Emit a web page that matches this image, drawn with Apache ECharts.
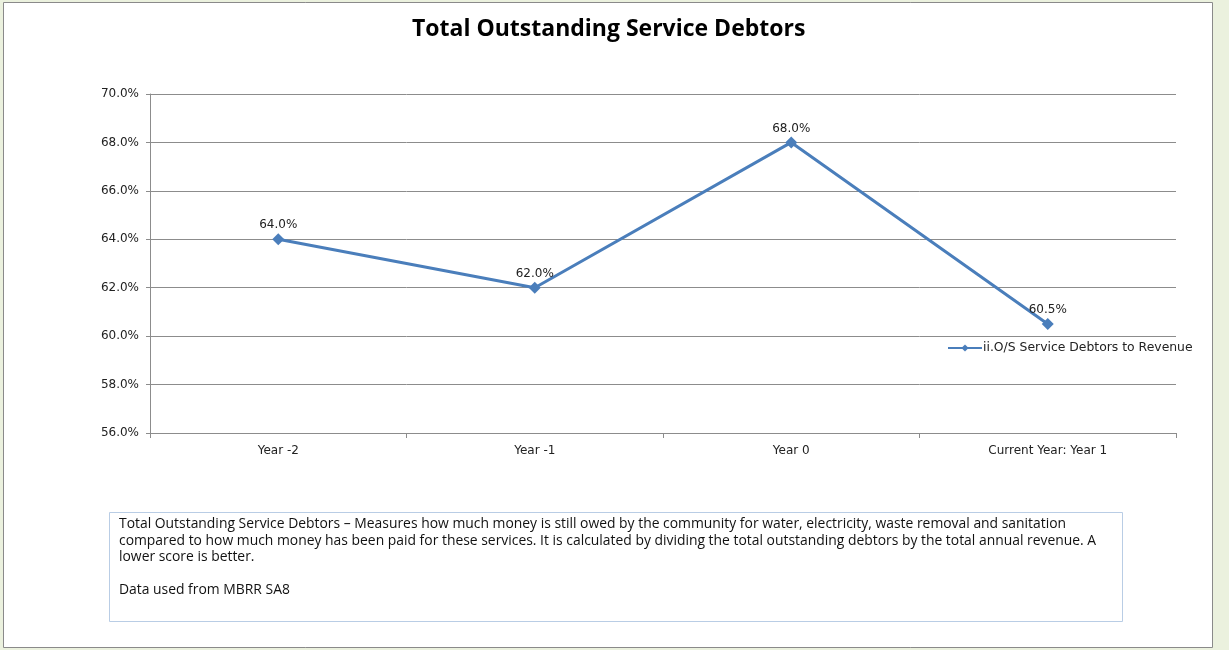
<!DOCTYPE html>
<html>
<head>
<meta charset="utf-8">
<script src="https://cdn.jsdelivr.net/npm/echarts@6/dist/echarts.min.js"></script>
<style>
  html, body { margin: 0; padding: 0; background: #EBF1DE; }
  #chart { width: 1229px; height: 650px; }
</style>
</head>
<body>
<div id="chart"></div>
<script>
// Categories and values (percent)
const categories = ['Year -2', 'Year -1', 'Year 0', 'Current Year: Year 1'];
const debtorsToRevenue = [64.0, 62.0, 68.0, 60.5];
const seriesName = 'ii.O/S Service Debtors to Revenue';
const noteLines = [
  'Total Outstanding Service Debtors \u2013 Measures how much money is still owed by the community for water, electricity, waste removal and sanitation',
  'compared to how much money has been paid for these services. It is calculated by dividing the total outstanding debtors by the total annual revenue. A',
  'lower score is better.',
  '',
  'Data used from MBRR SA8'
];

const axisFont = 'Verdana, "DejaVu Sans", sans-serif';
const chart = echarts.init(document.getElementById('chart'));

chart.setOption({
  backgroundColor: '#EBF1DE',
  animation: false,
  title: {
    text: 'Total Outstanding Service Debtors',
    left: 407,
    top: 13,
    textStyle: { fontFamily: '"Open Sans", sans-serif', fontSize: 23, fontWeight: 'bold', color: '#000' }
  },
  legend: {
    left: 942,
    top: 337,
    itemWidth: 34,
    itemHeight: 9,
    itemGap: 0,
    textStyle: { fontFamily: axisFont, fontSize: 12.4, color: '#222', padding: [0, 0, 0, -4] },
    data: [seriesName]
  },
  grid: { left: 150, right: 53, top: 94, bottom: 217 },
  xAxis: {
    type: 'category',
    data: categories,
    boundaryGap: true,
    axisLine: { lineStyle: { color: '#8c8c8c', width: 1 } },
    axisTick: { show: true, alignWithLabel: false, length: 5, lineStyle: { color: '#8c8c8c' } },
    axisLabel: { fontFamily: axisFont, fontSize: 12, color: '#222', margin: 12 }
  },
  yAxis: {
    type: 'value',
    min: 56,
    max: 70,
    interval: 2,
    axisLine: { show: true, lineStyle: { color: '#8c8c8c', width: 1 } },
    axisTick: { show: true, length: 4, inside: false, lineStyle: { color: '#8c8c8c' } },
    splitLine: { lineStyle: { color: '#8c8c8c', width: 1 } },
    axisLabel: {
      fontFamily: axisFont, fontSize: 12, color: '#222', margin: 11,
      formatter: v => v.toFixed(1) + '%'
    }
  },
  series: [{
    name: seriesName,
    type: 'line',
    data: debtorsToRevenue,
    symbol: 'diamond',
    symbolSize: 12,
    color: '#4A7EBB',
    lineStyle: { color: '#4A7EBB', width: 3 },
    itemStyle: { color: '#4A7EBB' },
    label: {
      show: true,
      position: 'top',
      distance: 2,
      fontFamily: axisFont,
      fontSize: 12,
      color: '#222',
      formatter: p => p.value.toFixed(1) + '%'
    }
  }],
  graphic: [
    {
      type: 'rect',
      z: -10,
      silent: true,
      shape: { x: 3.5, y: 2.5, width: 1209, height: 645 },
      style: { fill: '#fff', stroke: '#8a8a8a', lineWidth: 1 }
    },
    {
      type: 'rect',
      z: -5,
      silent: true,
      shape: { x: 109.5, y: 512.5, width: 1013, height: 109 },
      style: { fill: '#fff', stroke: '#B9CDE5', lineWidth: 1 }
    },
    {
      type: 'text',
      silent: true,
      left: 119,
      top: 516,
      style: {
        text: noteLines.join('\n'),
        fontFamily: '"Open Sans", sans-serif',
        fontSize: 13.9,
        lineHeight: 16.5,
        fill: '#111'
      }
    }
  ]
});
</script>
</body>
</html>
